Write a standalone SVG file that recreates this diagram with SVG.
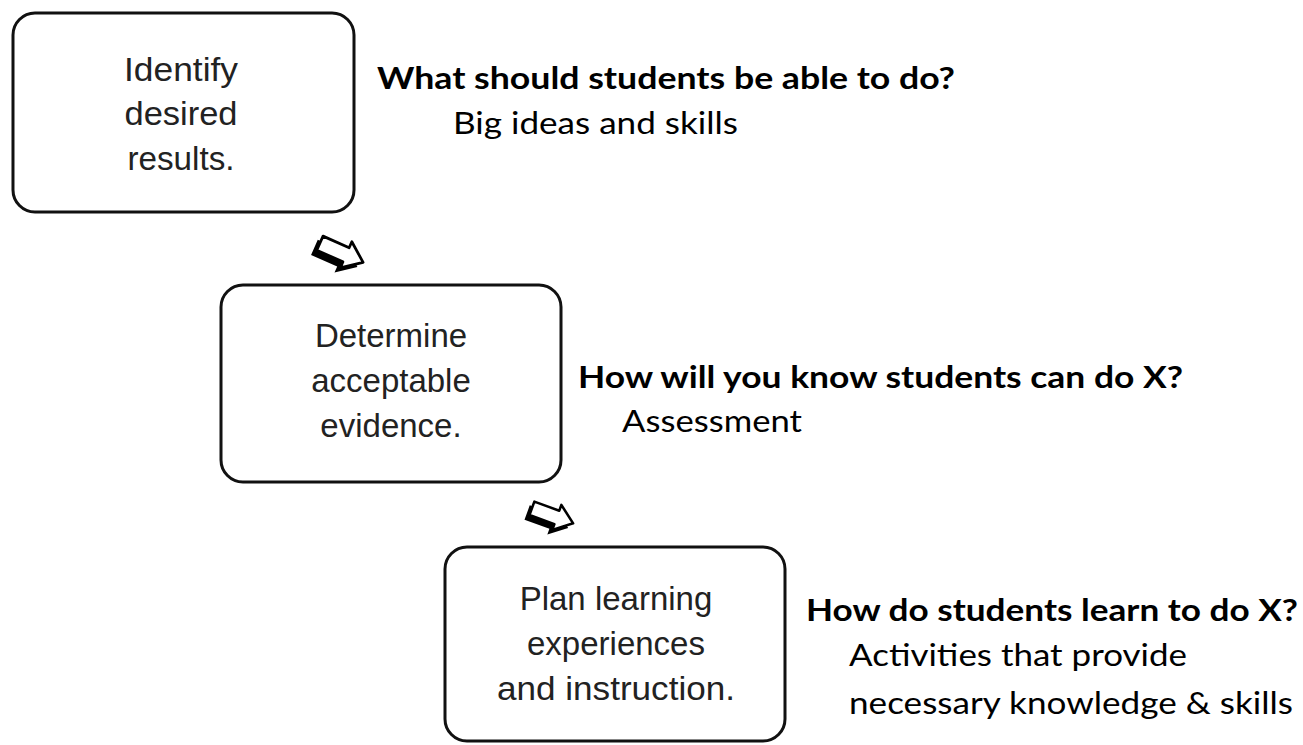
<svg xmlns="http://www.w3.org/2000/svg" width="1303" height="745" viewBox="0 0 1303 745">
  <defs>
    <style>
      .box { fill: #fff; stroke: #111; stroke-width: 3; }
      .step { font-family: "Liberation Sans", Arial, sans-serif; font-size: 33px; fill: #222; text-anchor: middle; }
      .q { font-family: Lato, "Open Sans", sans-serif; font-size: 30px; font-weight: bold; fill: #000; }
      .a { font-family: Lato, "Open Sans", sans-serif; font-size: 30px; fill: #000; }
    </style>
    <!-- hollow block arrow with a heavy drop shadow -->
    <g id="blockArrow">
      <path d="M-22,-5 L4,-5 L4,-11 L21,3 L4,16 L4,10 L-22,10 Z" fill="#000" transform="translate(-3,3)"/>
      <path d="M-22,-7 L4,-7 L4,-13 L21,0 L4,13 L4,7 L-22,7 Z" fill="#fff" stroke="#000" stroke-width="2.5" stroke-linejoin="round"/>
    </g>
  </defs>

  <rect width="1303" height="745" fill="#fff"/>

  <g id="connectors">
    <use href="#blockArrow" transform="translate(342,253) rotate(24) scale(1.1)"/>
    <use href="#blockArrow" transform="translate(553,516) rotate(20) scale(1.02)"/>
  </g>

  <g id="node-identify">
    <rect class="box" x="13" y="13" width="341" height="199" rx="22"/>
    <text class="step" x="181" y="81" textLength="114" lengthAdjust="spacingAndGlyphs">Identify</text>
    <text class="step" x="181" y="125" textLength="113" lengthAdjust="spacingAndGlyphs">desired</text>
    <text class="step" x="181" y="170" textLength="107" lengthAdjust="spacingAndGlyphs">results.</text>
  </g>

  <g id="node-evidence">
    <rect class="box" x="221" y="285" width="340" height="197" rx="22"/>
    <text class="step" x="391" y="347">Determine</text>
    <text class="step" x="391" y="392">acceptable</text>
    <text class="step" x="391" y="437">evidence.</text>
  </g>

  <g id="node-plan">
    <rect class="box" x="445" y="547" width="340" height="194" rx="22"/>
    <text class="step" x="616" y="610">Plan learning</text>
    <text class="step" x="616" y="655">experiences</text>
    <text class="step" x="616" y="700" textLength="238" lengthAdjust="spacingAndGlyphs">and instruction.</text>
  </g>

  <g id="labels">
    <text class="q" x="377" y="89" textLength="578" lengthAdjust="spacingAndGlyphs">What should students be able to do?</text>
    <text class="a" x="453" y="134" textLength="285" lengthAdjust="spacingAndGlyphs">Big ideas and skills</text>
    <text class="q" x="578" y="388" textLength="605" lengthAdjust="spacingAndGlyphs">How will you know students can do X?</text>
    <text class="a" x="622" y="432" textLength="180" lengthAdjust="spacingAndGlyphs">Assessment</text>
    <text class="q" x="806" y="621" textLength="492" lengthAdjust="spacingAndGlyphs">How do students learn to do X?</text>
    <text class="a" x="849" y="666" textLength="338" lengthAdjust="spacingAndGlyphs">Activities that provide</text>
    <text class="a" x="849" y="714" textLength="444" lengthAdjust="spacingAndGlyphs">necessary knowledge &amp; skills</text>
  </g>
</svg>
